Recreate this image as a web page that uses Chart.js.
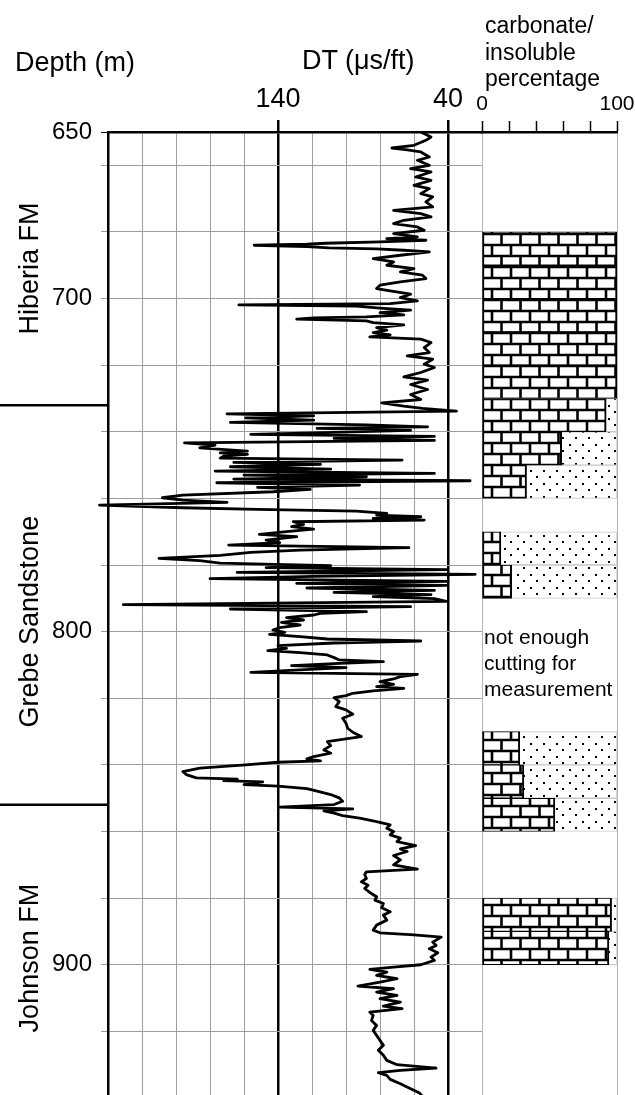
<!DOCTYPE html>
<html>
<head>
<meta charset="utf-8">
<title>DT log and carbonate content</title>
<script src="https://cdn.jsdelivr.net/npm/chart.js@4.4.1/dist/chart.umd.min.js"></script>
<style>
  html, body { margin: 0; padding: 0; background: #fff; overflow: hidden; }
  #page { position: relative; width: 635px; height: 1095px; overflow: hidden;
          font-family: "Liberation Sans", Arial, sans-serif; color: #000; }
  canvas { position: absolute; top: 0; }
  #dtChart { left: 0; }
  #carbChart { left: 476px; }
  .hdr { position: absolute; white-space: nowrap; }
</style>
</head>
<body>
<div id="page">
  <canvas id="dtChart" width="490" height="1098"></canvas>
  <canvas id="carbChart" width="159" height="1098"></canvas>
  <div class="hdr" style="left:15px;top:44px;font-size:27px;line-height:36px">Depth (m)</div>
  <div class="hdr" style="left:302px;top:42px;font-size:27px;line-height:36px">DT (μs/ft)</div>
  <div class="hdr" style="left:485px;top:12px;font-size:23px;line-height:26.5px">carbonate/<br>insoluble<br>percentage</div>
</div>
<script>
// ---- sonic log: depth (m) / DT (us/ft) ----
const logDepth = [
  650.0, 651.5, 652.5, 654.0, 654.8, 655.3, 656.0, 657.5, 658.5, 660.0,
  661.0, 662.0, 663.5, 664.5, 666.0, 667.0, 668.5, 669.5, 671.0, 672.5,
  673.5, 674.5, 675.5, 676.5, 677.5, 678.5, 679.5, 680.5, 681.5, 682.0,
  682.5, 683.0, 683.4, 683.7, 684.0, 684.4, 684.8, 685.1, 685.5, 686.0,
  687.0, 688.0, 689.0, 690.0, 691.0, 692.0, 693.0, 694.0, 695.0, 696.0,
  697.0, 697.7, 698.7, 699.7, 700.7, 701.5, 701.9, 702.3, 702.9, 703.5,
  704.2, 704.9, 705.5, 705.8, 706.2, 706.7, 707.2, 707.9, 708.7, 709.5,
  710.2, 710.9, 711.5, 712.2, 713.2, 714.7, 716.2, 717.2, 718.2, 719.7,
  720.7, 722.2, 723.5, 724.5, 725.8, 727.3, 728.8, 730.3, 731.3, 732.3,
  733.0, 733.8, 734.6, 735.2, 735.8, 736.5, 737.2, 737.9, 738.5, 739.0,
  739.6, 740.2, 740.8, 741.4, 742.0, 742.6, 743.3, 744.0, 744.8, 745.8,
  746.3, 746.8, 747.3, 747.9, 748.5, 749.2, 749.8, 750.5, 751.2, 751.8,
  752.5, 753.0, 753.5, 754.2, 754.7, 755.3, 756.0, 756.7, 757.3, 758.0,
  759.0, 759.8, 760.5, 761.2, 762.0, 762.8, 763.3, 763.8, 764.5, 765.0,
  765.5, 766.0, 766.5, 767.0, 767.8, 768.5, 769.2, 770.0, 770.8, 771.5,
  772.5, 773.3, 774.0, 774.8, 775.5, 776.2, 777.1, 778.0, 778.7, 779.4,
  780.2, 780.8, 781.4, 782.2, 782.8, 783.4, 784.1, 784.9, 785.5, 786.1,
  786.9, 787.6, 788.2, 788.9, 789.5, 790.1, 790.9, 791.9, 792.5, 793.2,
  794.0, 794.5, 795.0, 795.8, 796.5, 797.2, 798.0, 798.8, 799.5, 800.2,
  800.8, 801.5, 802.2, 802.8, 803.4, 804.2, 805.0, 805.7, 806.3, 807.0,
  807.8, 808.5, 809.0, 809.6, 810.2, 810.8, 811.5, 812.2, 812.8, 813.5,
  814.2, 815.0, 815.8, 816.5, 817.0, 817.8, 818.5, 819.2, 819.8, 821.0,
  822.5, 823.5, 824.8, 826.0, 827.5, 829.0, 830.2, 831.5, 832.2, 833.0,
  834.2, 835.5, 836.5, 837.5, 838.2, 838.8, 839.2, 840.0, 841.0, 842.0,
  842.9, 843.9, 844.3, 844.7, 845.1, 845.9, 846.4, 847.1, 847.9, 848.9,
  849.9, 850.9, 851.9, 852.7, 853.2, 853.8, 854.5, 855.2, 856.0, 857.0,
  858.0, 859.0, 860.0, 861.0, 862.0, 863.0, 864.2, 865.2, 866.0, 867.2,
  868.5, 870.0, 871.3, 872.1, 872.9, 874.1, 875.1, 876.1, 877.1, 878.3,
  879.6, 880.6, 881.6, 882.9, 884.1, 885.1, 886.6, 888.1, 889.6, 890.4,
  891.0, 891.7, 893.2, 894.2, 895.2, 896.4, 897.7, 898.7, 900.0, 900.7,
  901.4, 902.2, 903.2, 904.2, 905.2, 906.4, 907.2, 908.2, 909.2, 910.2,
  911.2, 912.4, 913.2, 914.2, 915.2, 916.7, 918.2, 919.7, 921.2, 922.7,
  924.2, 925.7, 927.2, 928.7, 930.0, 931.0, 931.7, 932.4, 933.2, 934.4,
  935.7, 937.2, 938.4, 939.5
];
const logDT = [
  56, 50, 53, 60, 73, 65, 56, 51, 58, 51,
  62, 50, 59, 50, 60, 51, 56, 49, 53, 49,
  72, 56, 50, 66, 72, 58, 54, 72, 58, 76,
  53, 80, 112, 123, 154, 123, 110, 82, 66, 51,
  68, 84, 72, 76, 60, 68, 55, 53, 68, 80,
  82, 74, 62, 68, 58, 74, 163, 94, 80, 62,
  80, 66, 88, 119, 129, 88, 84, 66, 82, 76,
  84, 74, 86, 56, 50, 54, 51, 64, 49, 54,
  48, 56, 66, 52, 62, 52, 62, 56, 79, 66,
  55, 35, 170, 119, 159, 119, 168, 88, 52, 117,
  62, 107, 156, 48, 107, 48, 195, 177, 186, 158,
  174, 158, 172, 174, 67, 166, 115, 168, 109, 177,
  48, 160, 88, 166, 27, 176, 92, 152, 121, 143,
  196, 208, 196, 170, 245, 196, 152, 94, 76, 82,
  56, 84, 54, 131, 125, 132, 119, 135, 151, 129,
  147, 139, 169, 63, 127, 156, 174, 210, 186, 174,
  109, 147, 41, 164, 24, 119, 180, 40, 129, 41,
  123, 48, 107, 50, 84, 48, 41, 231, 62, 168,
  88, 115, 119, 135, 125, 138, 127, 139, 143, 136,
  145, 127, 111, 56, 107, 140, 135, 146, 127, 111,
  107, 104, 78, 107, 132, 100, 127, 156, 58, 68,
  72, 80, 72, 82, 66, 84, 96, 100, 107, 104,
  106, 100, 96, 102, 100, 99, 96, 91, 100, 111,
  109, 113, 109, 119, 123, 115, 140, 159, 186, 196,
  194, 188, 164, 172, 149, 160, 140, 123, 117, 109,
  104, 102, 107, 139, 96, 113, 107, 102, 92, 82,
  74, 76, 72, 74, 68, 70, 59, 68, 64, 72,
  68, 72, 58, 88, 89, 88, 91, 87, 89, 86,
  82, 83, 78, 79, 74, 78, 76, 82, 84, 80,
  60, 44, 49, 47, 51, 46, 50, 48, 56, 72,
  86, 76, 82, 70, 80, 93, 72, 82, 70, 80,
  68, 78, 67, 86, 84, 85, 82, 84, 82, 80,
  78, 81, 78, 76, 70, 47, 68, 81, 76, 74,
  68, 62, 57, 55
];

// ---- cuttings: top of each 10 m sample and carbonate % ----
const carbTop = [680, 690, 700, 710, 720, 730, 740, 750, 770, 780, 830, 840, 850, 880, 890];
const carbPct = [100, 100, 100, 100, 100, 92, 59, 33, 14, 22, 28, 31, 54, 96, 94];
const carbStep = 10;

// ---- axes ----
const depthTicks = [650, 660, 680, 700, 720, 740, 760, 780, 800, 820, 840, 860, 880, 900, 920, 940];
const depthLabels = [650, 700, 800, 900];
const dtLabels = [140, 40];
const pctLabels = [0, 100];

// ---- formations ----
const formationNames = ['Hiberia FM', 'Grebe Sandstone', 'Johnson FM'];
const formationLabelDepth = [691, 797, 898];
const formationBounds = [732, 852];

const noteLines = ['not enough', 'cutting for', 'measurement'];
const noteDepth = 802;

const FONT = '"Liberation Sans", Arial, sans-serif';
Chart.defaults.font.family = FONT;
Chart.defaults.color = '#000';

const GRID = '#9e9e9e';

// brick (limestone) fill
function makeBrick() {
  const c = document.createElement('canvas');
  c.width = 38; c.height = 22;
  const g = c.getContext('2d');
  g.fillStyle = '#fff';
  g.fillRect(0, 0, 38, 22);
  g.strokeStyle = '#000';
  g.lineWidth = 2.6;
  const seg = (x1, y1, x2, y2) => { g.beginPath(); g.moveTo(x1, y1); g.lineTo(x2, y2); g.stroke(); };
  seg(0, 3, 38, 3);
  seg(0, 14, 38, 14);
  [16, 35].forEach(x => seg(x, 3, x, 14));
  [6.5, 25.5].forEach(x => { seg(x, 14, x, 22); seg(x, 0, x, 3); });
  return g.createPattern(c, 'repeat');
}

// dotted (insoluble) fill
function makeDots() {
  const c = document.createElement('canvas');
  c.width = 13; c.height = 13;
  const g = c.getContext('2d');
  g.fillStyle = '#fff';
  g.fillRect(0, 0, 13, 13);
  g.fillStyle = '#000';
  g.fillRect(2, 2, 2, 2);
  g.fillRect(8, 8, 2, 2);
  return g.createPattern(c, 'repeat');
}

const formationPlugin = {
  id: 'formations',
  afterDraw(chart) {
    const { ctx, chartArea } = chart;
    const y = chart.scales.y;
    ctx.save();
    ctx.strokeStyle = '#000';
    ctx.lineWidth = 2.5;
    formationBounds.forEach(d => {
      const py = y.getPixelForValue(d);
      ctx.beginPath();
      ctx.moveTo(0, py);
      ctx.lineTo(chartArea.left, py);
      ctx.stroke();
    });
    ctx.fillStyle = '#000';
    ctx.font = '27px ' + FONT;
    ctx.textAlign = 'center';
    ctx.textBaseline = 'middle';
    formationNames.forEach((name, i) => {
      ctx.save();
      ctx.translate(31, y.getPixelForValue(formationLabelDepth[i]));
      ctx.rotate(-Math.PI / 2);
      ctx.fillText(name, 0, 0);
      ctx.restore();
    });
    ctx.restore();
  }
};

const notePlugin = {
  id: 'note',
  afterDatasetsDraw(chart) {
    const { ctx, chartArea } = chart;
    const py = chart.scales.y.getPixelForValue(noteDepth);
    ctx.save();
    ctx.fillStyle = '#000';
    ctx.font = '21px ' + FONT;
    ctx.textAlign = 'left';
    ctx.textBaseline = 'middle';
    noteLines.forEach((t, i) => ctx.fillText(t, chartArea.left + 2, py + i * 26));
    ctx.restore();
  }
};

// ---- DT track ----
new Chart(document.getElementById('dtChart'), {
  type: 'scatter',
  data: {
    datasets: [{
      data: logDepth.map((d, i) => ({ x: logDT[i], y: d })),
      showLine: true,
      borderColor: '#000',
      borderWidth: 2.8,
      borderJoinStyle: 'round',
      pointRadius: 0,
      tension: 0,
      clip: { left: 12, top: 0, right: 0, bottom: 0 }
    }]
  },
  options: {
    responsive: false,
    animation: false,
    layout: { padding: { left: 0, right: 8, top: 0, bottom: 0 } },
    plugins: { legend: { display: false }, tooltip: { enabled: false } },
    scales: {
      x: {
        type: 'linear',
        position: 'top',
        reverse: true,
        min: 20,
        max: 240,
        afterFit: s => { s.height = 132; s.paddingLeft = 0; s.paddingRight = 0; },
        ticks: {
          stepSize: 20,
          autoSkip: false,
          maxRotation: 0,
          padding: 4,
          font: { size: 27 },
          callback: v => dtLabels.includes(v) ? String(v) : ''
        },
        grid: {
          color: c => dtLabels.includes(c.tick.value) ? '#000' : GRID,
          lineWidth: c => dtLabels.includes(c.tick.value) ? 2.5 : 1,
          tickColor: c => dtLabels.includes(c.tick.value) ? '#000' : 'rgba(0,0,0,0)',
          tickLength: 12
        },
        border: { color: '#000', width: 2.5 }
      },
      y: {
        type: 'linear',
        reverse: true,
        min: 650,
        max: 940,
        afterFit: s => { s.width = 108; s.paddingTop = 0; s.paddingBottom = 0; },
        afterBuildTicks: s => { s.ticks = depthTicks.map(v => ({ value: v })); },
        ticks: {
          autoSkip: false,
          padding: 9,
          font: { size: 24 },
          callback: v => depthLabels.includes(v) ? String(v) : ''
        },
        grid: {
          color: GRID,
          lineWidth: 1,
          tickColor: c => c.tick.value === 650 ? '#000' : GRID,
          tickLength: 7
        },
        border: { color: '#000', width: 2.5 }
      }
    }
  },
  plugins: [formationPlugin]
});

// ---- carbonate / insoluble column ----
const carbMid = carbTop.map(t => t + carbStep / 2);
new Chart(document.getElementById('carbChart'), {
  type: 'bar',
  data: {
    datasets: [{
      label: 'carbonate',
      data: carbMid.map((m, i) => ({ y: m, x: [0, carbPct[i]] })),
      backgroundColor: makeBrick(),
      borderColor: '#000',
      borderWidth: { left: 2, right: 2, top: 1, bottom: 1 },
      borderSkipped: false,
      grouped: false,
      barPercentage: 1,
      categoryPercentage: 1
    }, {
      label: 'insoluble',
      data: carbMid.map((m, i) => ({ y: m, x: [carbPct[i], 100] })),
      backgroundColor: makeDots(),
      borderColor: '#c8c8c8',
      borderWidth: { left: 0, right: 1, top: 1, bottom: 1 },
      borderSkipped: false,
      grouped: false,
      barPercentage: 1,
      categoryPercentage: 1
    }]
  },
  options: {
    indexAxis: 'y',
    responsive: false,
    animation: false,
    layout: { padding: { left: 6, right: 18, top: 0, bottom: 0 } },
    plugins: { legend: { display: false }, tooltip: { enabled: false } },
    scales: {
      x: {
        type: 'linear',
        position: 'top',
        min: 0,
        max: 100,
        afterFit: s => { s.height = 132; s.paddingLeft = 0; s.paddingRight = 0; },
        ticks: {
          stepSize: 20,
          autoSkip: false,
          maxRotation: 0,
          padding: 4,
          font: { size: 21 },
          callback: v => pctLabels.includes(v) ? String(v) : ''
        },
        grid: {
          color: c => pctLabels.includes(c.tick.value) ? '#b4b4b4' : 'rgba(0,0,0,0)',
          lineWidth: 1,
          tickColor: '#000',
          tickWidth: 1.5,
          tickLength: 11
        },
        border: { color: '#000', width: 2.5 }
      },
      y: {
        type: 'linear',
        reverse: true,
        min: 650,
        max: 940,
        offset: false,
        display: false
      }
    }
  },
  plugins: [notePlugin]
});
</script>
</body>
</html>
